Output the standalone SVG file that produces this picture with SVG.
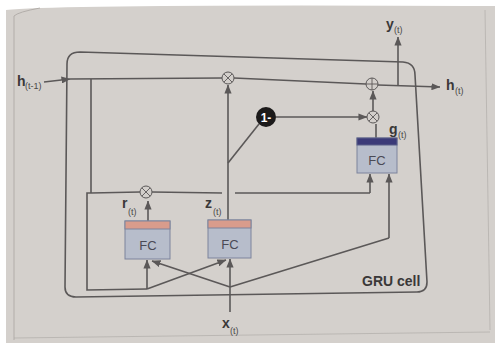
<svg xmlns="http://www.w3.org/2000/svg" width="495" height="343" viewBox="0 0 495 343">
<defs>
<marker id="ah" viewBox="0 0 10 8" refX="9.5" refY="4" markerWidth="9" markerHeight="7.2" orient="auto" markerUnits="userSpaceOnUse">
<path d="M0,0 L10,4 L0,8 z" fill="#5b5858"/>
</marker>
<style>
.ln{fill:none;stroke:#5b5858;stroke-width:1.6}
.ar{fill:none;stroke:#5b5858;stroke-width:1.6;marker-end:url(#ah)}
.op{fill:#d3cfcb;stroke:#5b5858;stroke-width:1}
.sym{fill:none;stroke:#5b5858;stroke-width:0.9}
.fc{fill:#b7bdcb;stroke:#7c839c;stroke-width:1}
.lab{font-family:"Liberation Sans",Arial,sans-serif;font-weight:bold;font-size:14px;fill:#3a3838}
.sub{font-family:"Liberation Sans",Arial,sans-serif;font-size:9px;fill:#4a4848}
.fct{font-family:"Liberation Sans",Arial,sans-serif;font-size:13px;fill:#4a4a55;text-anchor:middle}
</style>
</defs>
<rect width="495" height="343" fill="#ffffff"/>
<path d="M6,10 Q60,4 495,6 L495,343 L6,343 z" fill="#d4d0cc"/>
<path d="M14,340 L14,16 Q18,12 40,8" fill="none" stroke="#a9a5a1" stroke-width="0.8"/>
<path d="M485,10 L490,330" fill="none" stroke="#b5b1ad" stroke-width="0.8"/>
<path d="M14,338 L490,332" fill="none" stroke="#aaa6a2" stroke-width="0.6"/>

<g id="cell">
<path class="ln" d="M80,52 L403,62 Q415,63 415,75 L427,282 Q427,292 417,292 L76,297 Q65,297 65,287 L67,64 Q67,52 80,52 z"/>
<text class="lab" x="362" y="286" font-size="13">GRU cell</text>
</g>

<g id="connectors">
<path class="ar" d="M44,82 L70,79"/>
<path class="ln" d="M70,79 L222,78"/>
<path class="ln" d="M234,78 L366,84"/>
<path class="ar" d="M378,85 L440,87"/>
<path class="ar" d="M398,86 L398,37"/>
<path class="ln" d="M91,79 L91,193"/>
<path class="ln" d="M91,193 L87,193 L87,290 L147,289"/>
<path class="ln" d="M91,193 L140,192"/>
<path class="ln" d="M152,192 L222,193"/>
<path class="ln" d="M235,193 L370,193"/>
<path class="ar" d="M370,193 L370,174"/>
<path class="ar" d="M147,289 L147,260"/>
<path class="ar" d="M147,289 L226,260"/>
<path class="ar" d="M230,312 L230,259"/>
<path class="ar" d="M230,287 L152,261"/>
<path class="ln" d="M230,287 L389,238"/>
<path class="ar" d="M389,238 L389,174"/>
<path class="ar" d="M148,221 L148,201"/>
<path class="ar" d="M228,220 L228,85"/>
<path class="ln" d="M228,163 L259,124"/>
<path class="ar" d="M276,117 L367,117"/>
<path class="ar" d="M373,111 L373,91"/>
<path class="ln" d="M376,138 L376,124"/>
</g>

<g id="mul_top"><circle class="op" cx="228" cy="78" r="6"/><path class="sym" d="M223.8,73.8 L232.2,82.2 M232.2,73.8 L223.8,82.2"/></g>
<g id="add"><circle class="op" cx="372" cy="84" r="6"/><path class="sym" d="M366,84 L378,84 M372,78 L372,90"/></g>
<g id="mul_g"><circle class="op" cx="373" cy="117" r="6"/><path class="sym" d="M368.8,112.8 L377.2,121.2 M377.2,112.8 L368.8,121.2"/></g>
<g id="mul_r"><circle class="op" cx="146" cy="192" r="6"/><path class="sym" d="M141.8,187.8 L150.2,196.2 M150.2,187.8 L141.8,196.2"/></g>

<g id="one_minus">
<circle cx="266" cy="117" r="10" fill="#1c1a1a"/>
<text x="266" y="121.5" font-family="Liberation Sans,Arial,sans-serif" font-weight="bold" font-size="12" fill="#ffffff" text-anchor="middle">1-</text>
</g>

<g id="fc_r">
<rect class="fc" x="125" y="221" width="45" height="38"/>
<rect x="125" y="221" width="45" height="8" fill="#d99c8c" stroke="#7c839c" stroke-width="1"/>
<text class="fct" x="148" y="250">FC</text>
</g>
<g id="fc_z">
<rect class="fc" x="208" y="220" width="43" height="38"/>
<rect x="208" y="220" width="43" height="8" fill="#d99c8c" stroke="#7c839c" stroke-width="1"/>
<text class="fct" x="230" y="249">FC</text>
</g>
<g id="fc_g">
<rect class="fc" x="357" y="138" width="40" height="35"/>
<rect x="357" y="138" width="40" height="7" fill="#3b3a78" stroke="#5a5f88" stroke-width="1"/>
<text class="fct" x="377" y="165">FC</text>
</g>

<g id="labels">
<text class="lab" x="17" y="86">h</text><text class="sub" x="25" y="89">(t-1)</text>
<text class="lab" x="446" y="90">h</text><text class="sub" x="455" y="94">(t)</text>
<text class="lab" x="386" y="29">y</text><text class="sub" x="394" y="33">(t)</text>
<text class="lab" x="389" y="134">g</text><text class="sub" x="398" y="138">(t)</text>
<text class="lab" x="122" y="208">r</text><text class="sub" x="128" y="215">(t)</text>
<text class="lab" x="205" y="208">z</text><text class="sub" x="213" y="215">(t)</text>
<text class="lab" x="222" y="328">x</text><text class="sub" x="230" y="334">(t)</text>
</g>
</svg>
